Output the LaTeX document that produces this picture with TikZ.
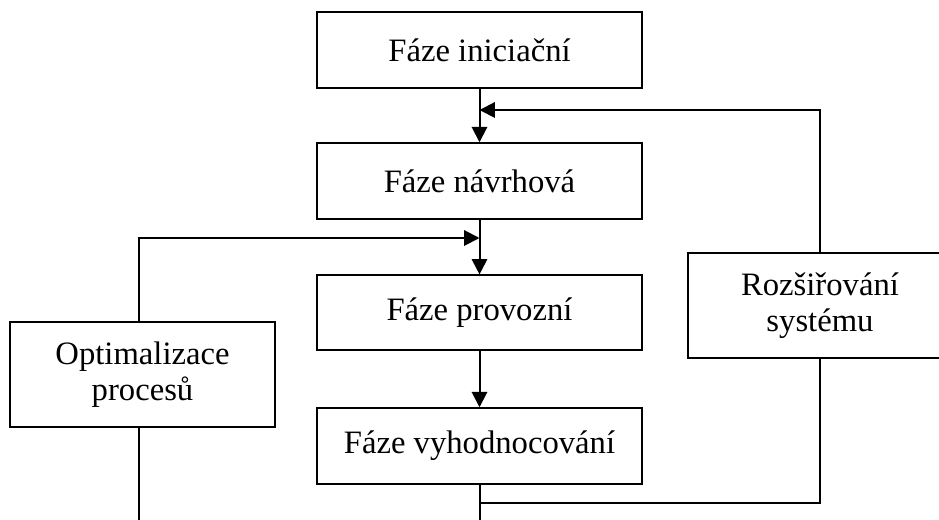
\documentclass[tikz,border=0pt]{standalone}
\usepackage{fontspec}
\setmainfont{Liberation Serif}
\usetikzlibrary{arrows.meta,calc}

\tikzset{
  phase/.style={draw, line width=1.1pt, rectangle, inner sep=0pt,
    align=center, font=\fontsize{24.5}{27}\selectfont},
  wire/.style={draw, line width=1.5pt},
  arrowwire/.style={wire, -{Triangle[length=11.5pt, width=11.5pt]}}
}

\begin{document}
\begin{tikzpicture}[x=0.75pt, y=-0.75pt]
  \useasboundingbox (0,0) rectangle (939,520);
  \clip (0,0) rectangle (939,520);

  % main sequence of phases
  \node[phase, minimum width=243.75pt, minimum height=57pt] (b1) at (479.5,50)  {Fáze iniciační};
  \node[phase, minimum width=243.75pt, minimum height=57pt] (b2) at (479.5,181) {Fáze návrhová};
  \node[phase, minimum width=243.75pt, minimum height=56pt] (b3) at (479.5,312.5) {Fáze provozní};
  \node[phase, minimum width=243.75pt, minimum height=57pt] (b4) at (479.5,446) {Fáze vyhodnocování};

  % feedback branches
  \node[phase, minimum width=198pt, minimum height=78.75pt] (rs) at (820,305.5) {Rozšiřování\\systému};
  \node[phase, minimum width=198.75pt, minimum height=78.75pt] (op) at (142.5,374.5) {Optimalizace\\procesů};

  % junction points on the main column
  \coordinate (jTop) at (479.5,110);
  \coordinate (jMid) at (479.5,238);
  \coordinate (jLow) at (479.5,503);
  \coordinate (endMain) at (479.5,540);
  \coordinate (opTop) at ($(op.north)+(-3.5,0)$);
  \coordinate (opBot) at ($(op.south)+(-3.5,0)$);
  \coordinate (endOp) at ($(opBot)+(0,120)$);

  % forward flow
  \draw[arrowwire] (b1.south) -- (b2.north);
  \draw[arrowwire] (b2.south) -- (b3.north);
  \draw[arrowwire] (b3.south) -- (b4.north);
  \draw[wire] (b4.south) -- (endMain);

  % system extension loop
  \draw[wire] (jLow) -| (rs.south);
  \draw[arrowwire] (rs.north) |- (jTop);

  % process optimisation loop
  \draw[wire] (opBot) -- (endOp);
  \draw[arrowwire] (opTop) |- (jMid);
\end{tikzpicture}
\end{document}
